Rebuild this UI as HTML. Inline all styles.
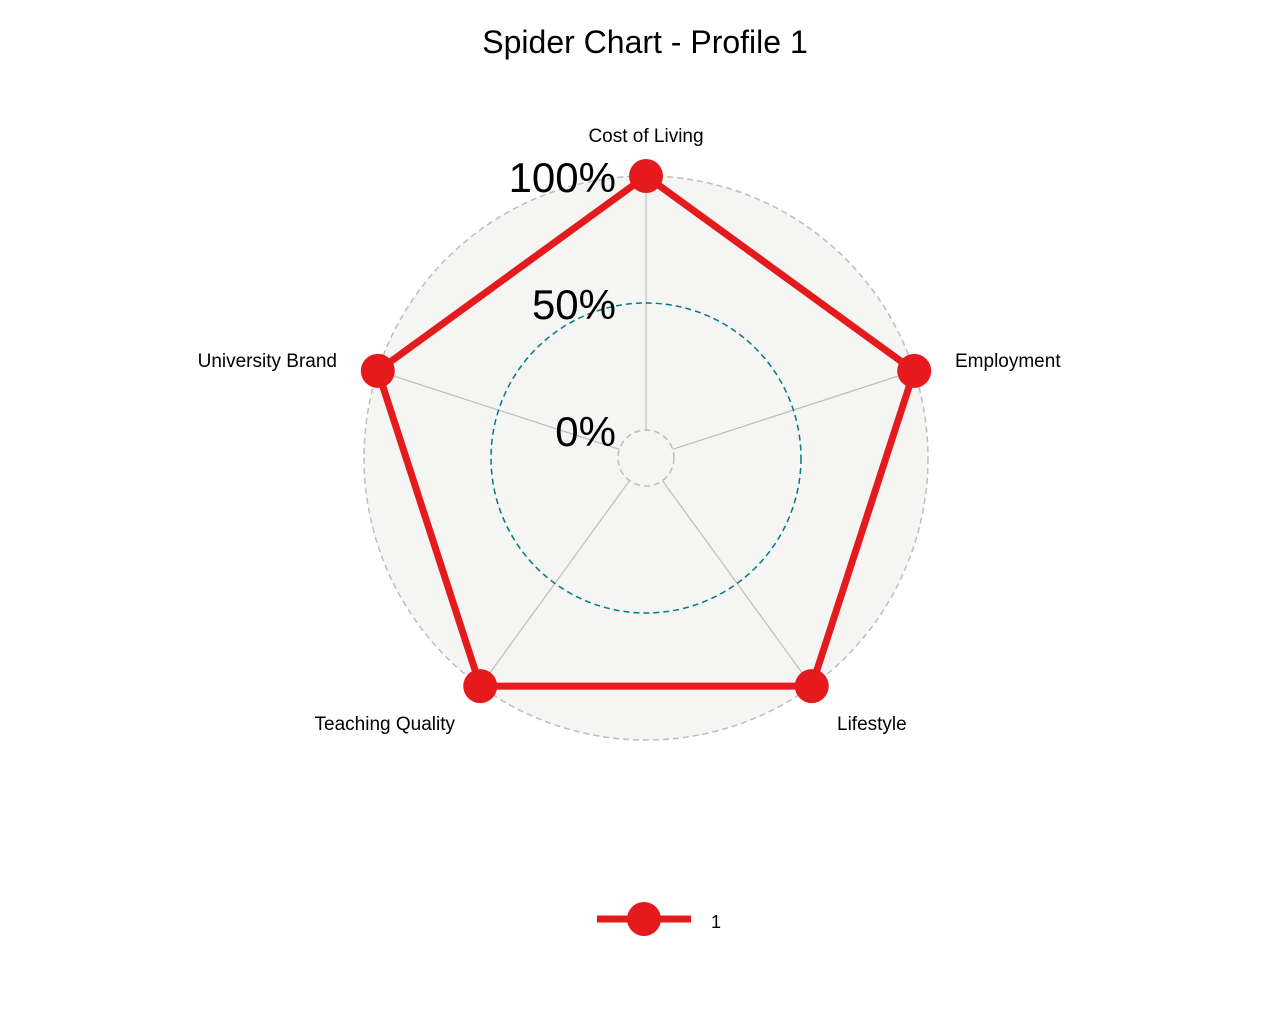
<!DOCTYPE html>
<html><head><meta charset="utf-8"><style>
body{margin:0;background:#fff;}
svg{display:block;font-family:"Liberation Sans",Arial,sans-serif;}
</style></head><body>
<svg id="chart" width="1280" height="1024" viewBox="0 0 1280 1024">
<text x="645" y="53" font-size="32" text-anchor="middle" fill="#000">Spider Chart - Profile 1</text>
<g id="grid"></g>
<g id="series"></g>
<g>
<line x1="597" y1="919" x2="691" y2="919" stroke="#E41A1C" stroke-width="7"/>
<circle cx="644" cy="919" r="17" fill="#E41A1C"/>
<text x="711" y="928" font-size="18" fill="#000">1</text>
</g>
</svg>
<script>
const categories=["Cost of Living","Employment","Lifestyle","Teaching Quality","University Brand"];
const values=[1,1,1,1,1];
const gridLevels=[0,0.5,1];
const gridLabels=["0%","50%","100%"];
const cx=646,cy=458,R=282,r0=28;
const NS="http://www.w3.org/2000/svg";
function rad(v){return r0+v*(R-r0);}
function pt(i,v){const a=i*2*Math.PI/categories.length;return [cx+rad(v)*Math.sin(a),cy-rad(v)*Math.cos(a)];}
function mk(tag,attrs,parent){const e=document.createElementNS(NS,tag);for(const k in attrs)e.setAttribute(k,attrs[k]);parent.appendChild(e);return e;}
const grid=document.getElementById('grid'),ser=document.getElementById('series');
let bg=mk('circle',{cx:cx,cy:cy,r:R,fill:'#F5F5F3',stroke:'none'},grid);


categories.forEach((c,i)=>{const a=pt(i,0),b=pt(i,1);
 let l=mk('line',{x1:a[0],y1:a[1],x2:b[0],y2:b[1],stroke:'#BDBDBD','stroke-width':1.2},grid);
 
 
});
gridLevels.forEach((g,j)=>{
 let c=mk('circle',{cx:cx,cy:cy,r:rad(g),fill:'none',stroke:g===0.5?'#007A87':'#BDBDBD','stroke-width':1.5,'stroke-dasharray':'6,4'},grid);
 
 
 let t=mk('text',{x:616,y:cy-rad(g)+16,'font-size':42,'text-anchor':'end',fill:'#000'},grid);
 t.textContent=gridLabels[j];
 
 
});
const labelPos=[[646,142,'middle'],[955,367,'start'],[837,730,'start'],[455,730,'end'],[337,367,'end']];
categories.forEach((c,i)=>{const p=labelPos[i];
 let t=mk('text',{x:p[0],y:p[1],'font-size':19,'text-anchor':p[2],fill:'#000'},grid);
 t.textContent=c;
 
 
});
const pts=values.map((v,i)=>pt(i,v));
let poly=mk('polygon',{points:pts.map(p=>p.join(',')).join(' '),fill:'none',stroke:'#E41A1C','stroke-width':7},ser);


pts.forEach(p=>{
 let c=mk('circle',{cx:p[0],cy:p[1],r:17,fill:'#E41A1C'},ser);
 
 
});
</script>
</body></html>
